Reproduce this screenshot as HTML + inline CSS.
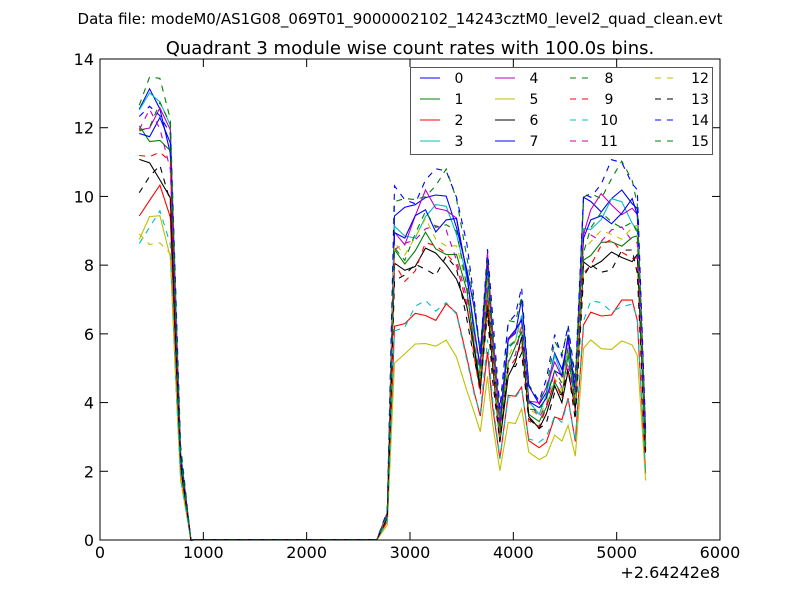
<!DOCTYPE html>
<html><head><style>
body{margin:0;background:#fff;}
svg text{font-family:"DejaVu Sans","Liberation Sans",sans-serif;}
</style></head><body>
<svg id="s" width="800" height="600" xmlns="http://www.w3.org/2000/svg">
<rect width="800" height="600" fill="#fff"/>
<text x="400" y="24" font-size="15" text-anchor="middle">Data file: modeM0/AS1G08_069T01_9000002102_14243cztM0_level2_quad_clean.evt</text>
<text x="410" y="54" font-size="18" text-anchor="middle">Quadrant 3 module wise count rates with 100.0s bins.</text>
<g id="lines"></g>
<rect x="100" y="59" width="620" height="481" fill="none" stroke="#000" stroke-width="1"/>
<g id="ticks" stroke="#000"></g>
<g id="tl" font-size="16"></g>
<text x="720" y="578" font-size="16" text-anchor="end">+2.64242e8</text>
<rect x="410.5" y="67.5" width="302" height="87" fill="#fff" stroke="#555"/>
<g id="leg" font-size="14"></g>
</svg>
<script>
var NS="http://www.w3.org/2000/svg";
function el(p,t,a,txt){var e=document.createElementNS(NS,t);for(var k in a)e.setAttribute(k,a[k]);if(txt!=null)e.textContent=txt;p.appendChild(e);return e;}
var X=function(v){return 100+v*620/6000;},Y=function(v){return 540-v*481/14;};
var tk=document.getElementById('ticks'),tl=document.getElementById('tl');
for(var i=0;i<=6;i++){var x=X(i*1000);el(tk,'line',{x1:x,x2:x,y1:540,y2:532});el(tk,'line',{x1:x,x2:x,y1:59,y2:67});el(tl,'text',{x:x,y:558,'text-anchor':'middle'},String(i*1000));}
for(var j=0;j<=7;j++){var y=Y(j*2);el(tk,'line',{x1:100,x2:108,y1:y,y2:y});el(tk,'line',{x1:720,x2:712,y1:y,y2:y});el(tl,'text',{x:94,y:y+6,'text-anchor':'end'},String(j*2));}
var base=[[380,12.3],[480,12.6],[580,12.7],[680,11.8],[730,7],[780,2.5],[880,0]];
for(var t=980;t<=2680;t+=100)base.push([t,0.01]);
var b2=[[2780,0.8],[2850,9.4],[2950,9.3],[3050,9.7],[3150,10.1],[3250,9.9],[3350,10],[3450,9.5],[3550,8],[3620,6.5],[3680,5.3],[3750,8.3],[3800,6],[3870,3.5],[3950,6],[4020,6.2],[4080,6.8],[4150,4.3],[4250,4.0],[4320,4.4],[4400,5.4],[4470,5.0],[4530,6.0],[4600,4.4],[4680,9.5],[4750,9.8],[4850,9.9],[4950,10.0],[5050,10.1],[5150,10.0],[5200,9.7],[5280,3]];
base=base.concat(b2);
var cols=['#0000ff','#008000','#ff0000','#00bfbf','#bf00bf','#bfbf00','#000000'];
var f1=[1.0,0.95,0.8,1.02,0.97,0.72,0.86,0.97, 1.06,0.9,0.72,0.95,0.7,0.85,1.0,0.98];
var f2=[1.0,0.87,0.67,0.95,0.97,0.57,0.83,0.95, 1.04,0.84,0.68,0.9,0.9,0.81,1.06,0.92];
var g=document.getElementById('lines');
for(var s=0;s<16;s++){var pts=[];for(var k=0;k<base.length;k++){var x=base[k][0],v=base[k][1];var f=x<2000?f1[s]:f2[s];var jit=Math.sin(k*1.7+s*2.3)*0.03+Math.cos(k*0.9+s*1.1)*0.02;var val=v*f*(1+jit);pts.push(X(x).toFixed(1)+','+Y(val).toFixed(1));}
var a={points:pts.join(' '),fill:'none',stroke:cols[s%7],'stroke-width':1.1};if(s>=8)a['stroke-dasharray']='6,6';el(g,'polyline',a);}
var lg=document.getElementById('leg');
var lx=[420,495,570,655],tx=[459,534,609,700];
for(var s=0;s<16;s++){var c=Math.floor(s/4),r=s%4,y=78+r*21;var a={x1:lx[c],x2:lx[c]+20,y1:y,y2:y,stroke:cols[s%7],'stroke-width':1.1};if(s>=8)a['stroke-dasharray']='6,6';el(lg,'line',a);el(lg,'text',{x:tx[c],y:y+5,'text-anchor':'middle'},String(s));}
</script>
</body></html>
